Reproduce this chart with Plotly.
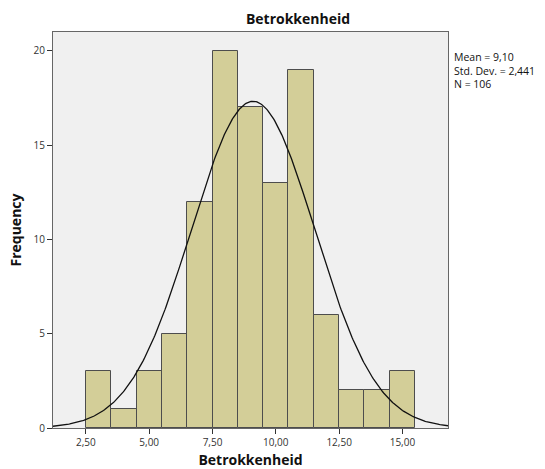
import numpy as np
import plotly.graph_objects as go

bin_centers = [3.0, 4.0, 5.0, 6.0, 7.0, 8.0, 9.0, 10.0, 11.0, 12.0, 13.0, 14.0, 15.0]
counts = [3, 1, 3, 5, 12, 20, 17, 13, 19, 6, 2, 2, 3]
bin_width = 1.0
mean_val = 9.10
sd_val = 2.441
n_val = 106
stats_lines = ["Mean = 9,10", "Std. Dev. = 2,441", "N = 106"]
x_ticks = [2.5, 5.0, 7.5, 10.0, 12.5, 15.0]
x_tick_labels = ["2,50", "5,00", "7,50", "10,00", "12,50", "15,00"]
y_ticks = [0, 5, 10, 15, 20]

FONT = "Open Sans"

xs = np.linspace(1.2, 16.8, 400)
ys = n_val * bin_width / (sd_val * np.sqrt(2 * np.pi)) * np.exp(-0.5 * ((xs - mean_val) / sd_val) ** 2)

fig = go.Figure()
fig.add_trace(go.Bar(
    x=bin_centers, y=counts, width=[bin_width] * len(bin_centers),
    marker=dict(color="#D3CE98", line=dict(color="#4D4D4D", width=1)),
    hoverinfo="x+y",
))
fig.add_trace(go.Scatter(
    x=xs, y=ys, mode="lines", line=dict(color="#111111", width=1.3),
    hoverinfo="skip",
))

plot_h = 469 - 32 - 41

fig.update_layout(
    width=545, height=469,
    margin=dict(l=53, r=97, t=32, b=41, autoexpand=False),
    paper_bgcolor="white",
    plot_bgcolor="#F0F0F0",
    showlegend=False,
    bargap=0,
    font=dict(family=FONT, color="#333333", size=10),
    title=dict(
        text="<b>Betrokkenheid</b>", x=298 / 545, xanchor="center",
        xref="container", yref="container", y=1 - 19 / 469, yanchor="middle",
        font=dict(family=FONT, size=14, color="#111111"),
    ),
    annotations=[dict(
        text="<br>".join(stats_lines), xref="paper", yref="paper", x=1.012,
        y=(428 - 49) / plot_h, xanchor="left", yanchor="top",
        align="left", showarrow=False, borderpad=0,
        font=dict(family=FONT, size=10.5, color="#111111"),
    )],
)

fig.update_xaxes(
    range=[1.2, 16.8], tickvals=x_ticks, ticktext=x_tick_labels,
    ticks="outside", ticklen=5, tickcolor="#333333", tickwidth=1,
    showgrid=False, zeroline=False, automargin=False,
    showline=True, linecolor="#666666", linewidth=1, mirror=True,
    tickfont=dict(family=FONT, size=10, color="#333333"),
    title=dict(text="<b>Betrokkenheid</b>", standoff=8,
               font=dict(family=FONT, size=14, color="#111111")),
)
fig.update_yaxes(
    range=[0, 21], tickvals=y_ticks, ticktext=[str(v) for v in y_ticks],
    ticks="outside", ticklen=5, tickcolor="#333333", tickwidth=1,
    showgrid=False, zeroline=False, automargin=False,
    showline=True, linecolor="#666666", linewidth=1, mirror=True,
    tickfont=dict(family=FONT, size=10, color="#333333"),
    title=dict(text="<b>Frequency</b>", standoff=8,
               font=dict(family=FONT, size=14, color="#111111")),
)

fig.write_html("out.html")
